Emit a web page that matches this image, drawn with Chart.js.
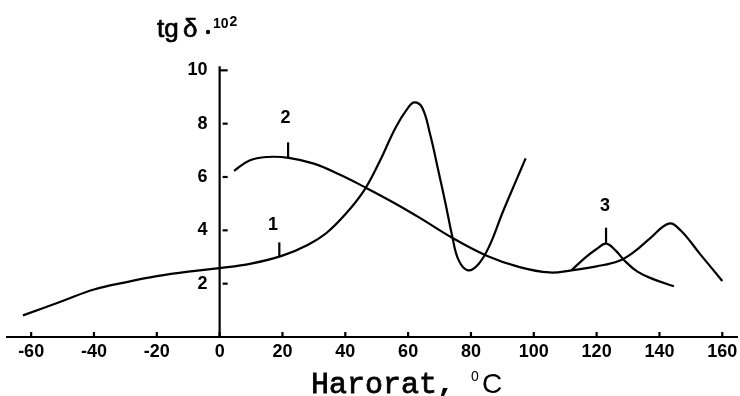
<!DOCTYPE html>
<html>
<head>
<meta charset="utf-8">
<script src="https://cdn.jsdelivr.net/npm/chart.js@4/dist/chart.umd.min.js"></script>
<style>
  body { margin: 0; background: #fff; }
  canvas { display: block; }
</style>
</head>
<body>
<canvas id="tgChart" width="740" height="396"></canvas>
<script>
// curve 1
const temp1 = [-62.6, -50, -40, -30, -20, -10, 0, 10, 20, 28, 34, 40, 46, 51, 56, 60, 62, 64.5, 67, 69.5, 72, 74, 76, 79, 82.5, 86, 90, 94.5, 97.4]
const tg1 = [0.81, 1.35, 1.78, 2.05, 2.28, 2.45, 2.58, 2.75, 3.05, 3.45, 3.9, 4.6, 5.5, 6.6, 7.85, 8.6, 8.8, 8.6, 7.6, 6.3, 4.95, 3.8, 2.9, 2.5, 2.75, 3.45, 4.65, 5.9, 6.7]
// curve 2
const temp2 = [4.6, 9.5, 15, 22, 30, 38, 46.5, 56, 64, 73.6, 85, 95.5, 105, 112, 120, 127, 132, 137, 143, 146.7, 153, 160]
const tg2 = [6.23, 6.62, 6.75, 6.72, 6.5, 6.1, 5.6, 5.0, 4.45, 3.75, 3.05, 2.62, 2.42, 2.5, 2.65, 2.85, 3.2, 3.7, 4.25, 4.0, 3.1, 2.1]
// curve 3
const temp3 = [112, 116.3, 120, 123, 126, 129, 133, 138, 144.6]
const tg3 = [2.5, 2.97, 3.3, 3.5, 3.25, 2.85, 2.45, 2.17, 1.9]

const tempTicks = [-60, -40, -20, 0, 20, 40, 60, 80, 100, 120, 140, 160]
const tgTicks = [2, 4, 6, 8, 10]

// curve number labels
const markNames = ['1', '2', '3']
const markTemp = [19, 21.8, 123]
const markBase = [3.03, 6.72, 3.5]
const markTop = [3.55, 7.3, 4.1]
const markTextTemp = [17, 21, 122.7]
const markTextTg = [4.2, 8.2, 4.93]

function pts(xs, ys) {
    return xs.map((x, i) => ({x: x, y: ys[i]}))
}

function curve(xs, ys) {
    return {
        data: pts(xs, ys),
        borderColor: '#000',
        borderWidth: 2.2,
        pointRadius: 0,
        fill: false,
        tension: 0.4
    }
}

// text with a thin outline so it looks as heavy as the scan
function heavyText(ctx, s, x, y) {
    ctx.fillText(s, x, y)
    ctx.strokeText(s, x, y)
}

const axesPlugin = {
    id: 'axesPlugin',
    afterDraw(chart) {
        let ctx = chart.ctx
        let sx = chart.scales.x
        let sy = chart.scales.y
        let area = chart.chartArea
        let x0 = sx.getPixelForValue(0)
        let y0 = sy.getPixelForValue(0)
        ctx.save()
        ctx.strokeStyle = '#000'
        ctx.fillStyle = '#000'
        ctx.lineWidth = 2.2

        // axes
        ctx.beginPath()
        ctx.moveTo(area.left, y0)
        ctx.lineTo(area.right, y0)
        ctx.moveTo(x0, y0)
        ctx.lineTo(x0, sy.getPixelForValue(10.15))
        ctx.stroke()

        // x ticks
        ctx.font = 'bold 18px "Liberation Sans"'
        ctx.textAlign = 'center'
        ctx.textBaseline = 'top'
        tempTicks.forEach(t => {
            let px = sx.getPixelForValue(t)
            ctx.beginPath()
            ctx.moveTo(px, y0)
            ctx.lineTo(px, y0 - 5)
            ctx.stroke()
            ctx.fillText(String(t), px, y0 + 6)
        })

        // y ticks
        ctx.textAlign = 'right'
        ctx.textBaseline = 'middle'
        tgTicks.forEach(v => {
            let py = sy.getPixelForValue(v)
            ctx.beginPath()
            ctx.moveTo(v == 10 ? x0 : x0 + 3, py)
            ctx.lineTo(x0 + 8, py)
            ctx.stroke()
            ctx.fillText(String(v), x0 - 12, py)
        })

        // curve labels
        ctx.textAlign = 'center'
        markNames.forEach((n, i) => {
            let px = sx.getPixelForValue(markTemp[i])
            ctx.beginPath()
            ctx.moveTo(px, sy.getPixelForValue(markBase[i]))
            ctx.lineTo(px, sy.getPixelForValue(markTop[i]))
            ctx.stroke()
            ctx.fillText(n, sx.getPixelForValue(markTextTemp[i]), sy.getPixelForValue(markTextTg[i]))
        })

        // y title
        ctx.lineWidth = 0.7
        ctx.textAlign = 'left'
        ctx.textBaseline = 'alphabetic'
        ctx.font = '26px "Liberation Sans"'
        heavyText(ctx, 'tg', 157, 37)
        heavyText(ctx, 'δ', 183, 37)
        ctx.beginPath()
        ctx.arc(208, 32, 2.2, 0, Math.PI * 2)
        ctx.fill()
        ctx.font = 'bold 14px "Liberation Sans"'
        ctx.fillText('10', 213, 28)
        let w = ctx.measureText('10').width
        ctx.fillText('2', 213 + w + 1, 26)

        // x title
        ctx.lineWidth = 0.8
        ctx.font = '30px "Liberation Mono"'
        heavyText(ctx, 'Harorat,', 311, 393)
        ctx.font = '14px "Liberation Sans"'
        ctx.fillText('0', 471, 381)
        ctx.font = '28px "Liberation Sans"'
        ctx.fillText('C', 482, 393)
        ctx.restore()
    }
}

makeChart()
function makeChart() {
    let el = document.getElementById('tgChart')
    new Chart(el, {
        type: 'line',
        data: {
            datasets: [curve(temp1, tg1), curve(temp2, tg2), curve(temp3, tg3)]
        },
        options: {
            responsive: false,
            devicePixelRatio: 1,
            animation: false,
            layout: {padding: {left: 6, right: 2, top: 65, bottom: 59}},
            scales: {
                x: {type: 'linear', min: -68, max: 165, display: false},
                y: {min: 0, max: 10.2, display: false}
            },
            plugins: {legend: {display: false}, tooltip: {enabled: false}}
        },
        plugins: [axesPlugin]
    })
}
</script>
</body>
</html>
